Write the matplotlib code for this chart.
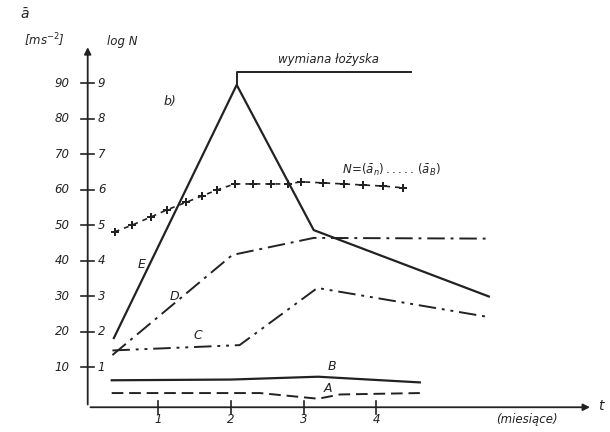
import matplotlib
matplotlib.use('Agg')
import matplotlib.pyplot as plt

# months vs. acceleration / log N
e_x = [0.39, 2.08, 3.14, 5.55]
e_y = [18.3, 89.6, 48.7, 30.0]
d_x = [0.37, 2.02, 3.14, 5.55]
d_y = [13.5, 41.7, 46.5, 46.3]
c_x = [0.37, 2.12, 3.19, 5.55]
c_y = [14.8, 16.3, 32.4, 24.2]
b_x = [0.36, 2.0, 3.2, 4.6]
b_y = [6.4, 6.6, 7.4, 5.8]
a_x = [0.36, 2.4, 2.9, 3.2, 3.5, 4.6]
a_y = [2.8, 2.8, 1.8, 1.2, 2.4, 2.8]
n_x = [0.40, 0.64, 0.90, 1.12, 1.38, 1.60, 1.81, 2.05, 2.30, 2.55, 2.78,
       2.97, 3.27, 3.55, 3.82, 4.10, 4.37]
n_y = [48.2, 50.1, 52.4, 54.4, 56.5, 58.3, 60.0, 61.7, 61.7, 61.7, 61.7,
       62.3, 62.0, 61.7, 61.4, 61.1, 60.6]
y_ticks = [10, 20, 30, 40, 50, 60, 70, 80, 90]
logn_labels = ['1', '2', '3', '4', '5', '6', '7', '8', '9']
x_ticks = [1, 2, 3, 4]

ink = '#222222'
fig = plt.figure(figsize=(6.1, 4.32), dpi=100)
ax = fig.add_axes([0.1402, 0.0014, 0.834, 0.904])
ax.set_xlim(0, 7)
ax.set_ylim(-8, 102)
for s in ax.spines.values():
    s.set_visible(False)
ax.set_xticks([])
ax.set_yticks([])

# axes with arrows
ax.annotate('', xy=(0.03, 101), xytext=(0.03, -1.2), annotation_clip=False,
            arrowprops=dict(arrowstyle='-|>', color=ink, lw=1.3, mutation_scale=10))
ax.annotate('', xy=(6.98, -1.2), xytext=(0.03, -1.2), annotation_clip=False,
            arrowprops=dict(arrowstyle='-|>', color=ink, lw=1.3, mutation_scale=10))

for v, lab in zip(y_ticks, logn_labels):
    ax.plot([-0.06, 0.12], [v, v], color=ink, lw=1.2, clip_on=False)
    ax.text(-0.22, v, str(v), ha='right', va='center', fontsize=8.5,
            style='italic', color=ink)
    ax.text(0.17, v, lab, ha='left', va='center', fontsize=8.5,
            style='italic', color=ink)
for v in x_ticks:
    ax.plot([v, v], [-3, 0.6], color=ink, lw=1.2)
    ax.text(v, -4.6, str(v), ha='center', va='center', fontsize=8.5,
            style='italic', color=ink)

ax.plot(e_x, e_y, color=ink, lw=1.6)
ax.plot(d_x, d_y, color=ink, lw=1.4, dashes=[9, 3, 1.5, 3])
ax.plot(c_x, c_y, color=ink, lw=1.4, dashes=[9, 3, 1.5, 3, 1.5, 3])
ax.plot(b_x, b_y, color=ink, lw=1.6)
ax.plot(a_x, a_y, color=ink, lw=1.4, dashes=[6, 3])
ax.plot(n_x, n_y, color=ink, lw=1.2, ls=(0, (3, 3)), marker='P',
        markersize=6, markeredgewidth=0)

# bearing replacement marker
ax.plot([e_x[1], e_x[1], 4.48], [e_y[1], 93.2, 93.2], color=ink, lw=1.4)
ax.text(2.65, 95, 'wymiana łożyska', fontsize=8.5, style='italic',
        color=ink, ha='left', va='bottom')

ax.text(0.72, 38, 'E', fontsize=9, style='italic', color=ink)
ax.text(1.16, 29, 'D', fontsize=9, style='italic', color=ink)
ax.text(1.48, 18, 'C', fontsize=9, style='italic', color=ink)
ax.text(3.33, 9.2, 'B', fontsize=9, style='italic', color=ink)
ax.text(3.28, 3.2, 'A', fontsize=9, style='italic', color=ink)
ax.text(1.08, 84, 'b)', fontsize=9, style='italic', color=ink)
ax.text(3.53, 64.5, r'$N\!=\!(\bar{a}_n)\,.....\,(\bar{a}_B)$', fontsize=8.5,
        color=ink)
ax.text(5.65, -4.6, '(miesiące)', fontsize=8.5, style='italic', color=ink,
        va='center')
fig.text(0.99, 0.06, 't', fontsize=10, style='italic', color=ink,
         ha='right', va='center')
fig.text(0.04, 0.955, r'$\bar{a}$', fontsize=10, color=ink, ha='center')
fig.text(0.072, 0.895, '[ms$^{-2}$]', fontsize=8.5, style='italic',
         color=ink, ha='center')
fig.text(0.175, 0.895, 'log N', fontsize=8.5, style='italic', color=ink,
         ha='left')

fig.savefig('out.png', dpi=100)
